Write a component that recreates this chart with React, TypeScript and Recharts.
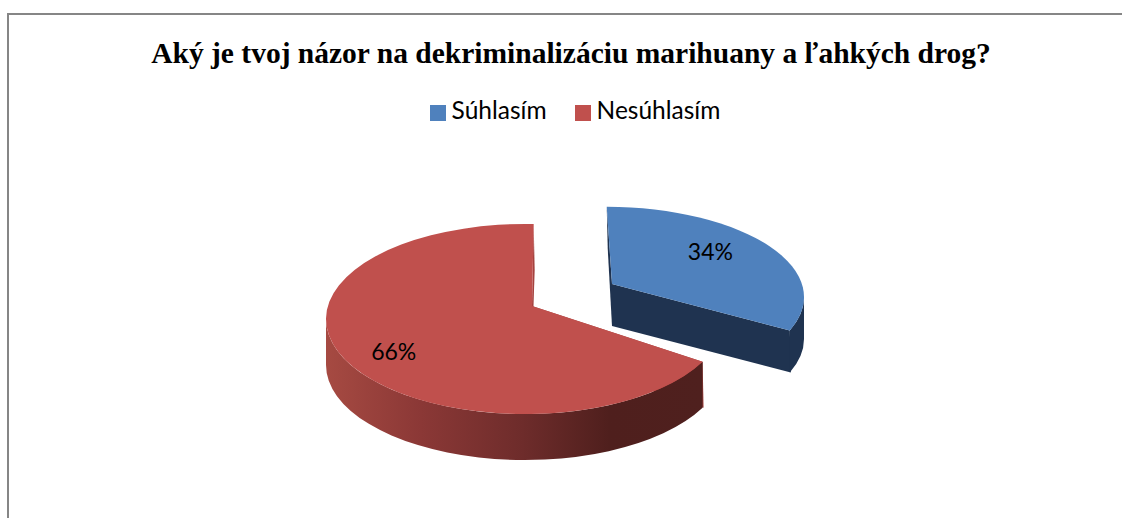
import React from 'react';
import { PieChart, Pie, Legend } from 'recharts';

const categories = ['Súhlasím', 'Nesúhlasím'];
const shares = [34, 66];
const sliceColors = ['#4f81bd', '#c0504d'];
const cutColors = ['#1f3350', '#a5423f'];
const wallColors = ['#1f3350', 'url(#redWall)'];
const title = 'Aký je tvoj názor na dekriminalizáciu marihuany a ľahkých drog?';

// fake 3D: the pie lies on an ellipse, blue slice is pulled out
const SQUASH = 95 / 199;
const APEX = { x: 7, y: -13 };
const sliceOffsets = [
    { dx: 80, dy: -22, ry: 0.95, depth: 42, pull: 14 },
    { dx: 0, dy: 0, ry: 1, depth: 46, pull: 8 },
];
const labelNudges = [{ x: -7, y: -3 }, { x: 0, y: 0 }];

const rad = (deg: number) => (deg * Math.PI) / 180;
// perspective pulls the front right of the circle back a little
const warp = (clockDeg: number, pull: number) =>
    clockDeg + 0.5 + (2 * clockDeg) / 360 - pull * Math.max(0, Math.sin(rad(clockDeg)));

const pieData = categories.map((name, i) => ({ name, value: shares[i], fill: sliceColors[i] }));

const rimPoint = (cx: number, cy: number, r: number, ry: number, t: number) => ({
    x: cx + r * Math.sin(rad(t)),
    y: cy - ry * Math.cos(rad(t)),
});

const Slice3D = (props: any) => {
    const { cx, cy, outerRadius, startAngle, endAngle, index, fill } = props;
    const off = sliceOffsets[index];
    const x0 = cx + off.dx;
    const y0 = cy + off.dy;
    const rx = outerRadius;
    const ry = outerRadius * SQUASH * off.ry;
    const t0 = warp(90 - startAngle, off.pull);
    const t1 = warp(90 - endAngle, off.pull);
    const large = t1 - t0 > 180 ? 1 : 0;
    const a = { x: x0 + APEX.x, y: y0 + APEX.y };
    const p0 = rimPoint(x0, y0, rx, ry, t0);
    const p1 = rimPoint(x0, y0, rx, ry, t1);
    const d = off.depth;

    const cut = (p: { x: number; y: number }) =>
        `M${a.x},${a.y} L${p.x},${p.y} L${p.x + 1},${p.y + d} L${a.x},${a.y + d} Z`;

    const wallFrom = Math.max(t0, 90);
    const wallTo = Math.min(t1, 270);
    const w0 = rimPoint(x0, y0, rx, ry, wallFrom);
    const w1 = rimPoint(x0, y0, rx, ry, wallTo);
    const wall = `M${w0.x},${w0.y} A${rx},${ry} 0 0 1 ${w1.x},${w1.y} L${w1.x},${w1.y + d} A${rx},${ry} 0 0 0 ${w0.x},${w0.y + d} Z`;

    return (
        <g>
            <path d={cut(p0)} fill={cutColors[index]} />
            <path d={cut(p1)} fill={cutColors[index]} />
            <path d={wall} fill={wallColors[index]} />
            <path d={`M${a.x},${a.y} L${p0.x},${p0.y} A${rx},${ry} 0 ${large} 1 ${p1.x},${p1.y} Z`} fill={fill} />
        </g>
    );
};

const renderLabel = (props: any) => {
    const { cx, cy, outerRadius, midAngle, index, value } = props;
    const off = sliceOffsets[index];
    const pos = rimPoint(
        cx + off.dx,
        cy + off.dy,
        outerRadius * 0.74,
        outerRadius * SQUASH * off.ry * 0.74,
        warp(90 - midAngle, off.pull),
    );
    return (
        <text
            x={pos.x + labelNudges[index].x}
            y={pos.y + labelNudges[index].y}
            textAnchor="middle"
            dominantBaseline="central"
            fontFamily="Lato"
            fontSize={23}
            fill="#000"
        >
            {value}%
        </text>
    );
};

const App = () => (
    <div style={{ position: 'absolute', left: 0, top: 0, width: 1122, height: 518, background: '#fff', overflow: 'hidden' }}>
        <div style={{ position: 'absolute', left: 7, top: 13, width: 1200, height: 600, border: '2px solid #868686' }} />
        <div style={{ position: 'absolute', left: 0, top: 37, width: 1142, textAlign: 'center', fontFamily: 'Liberation Serif', fontWeight: 'bold', fontSize: 29.5, color: '#000', whiteSpace: 'nowrap' }}>
            {title}
        </div>
        <div style={{ position: 'absolute', left: 0, top: 0 }}>
            <PieChart width={1122} height={518} margin={{ top: 0, right: 0, bottom: 0, left: 0 }}>
                <defs>
                    <linearGradient id="redWall" gradientUnits="userSpaceOnUse" x1={326} y1={0} x2={704} y2={0}>
                        <stop offset="0%" stopColor="#a64a42" />
                        <stop offset="25%" stopColor="#8b3836" />
                        <stop offset="52%" stopColor="#6e2c2b" />
                        <stop offset="75%" stopColor="#4f1f1d" />
                        <stop offset="100%" stopColor="#4f201e" />
                    </linearGradient>
                </defs>
                <Legend
                    verticalAlign="top"
                    align="center"
                    iconType="square"
                    iconSize={16}
                    itemSorter={null}
                    wrapperStyle={{ top: 95, left: 0, width: 1160, fontFamily: 'Lato', fontSize: 24.5 }}
                    formatter={(v: string, _e: any, i: number) => (
                        <span style={{ color: '#000', marginLeft: 2, marginRight: i === 0 ? 18 : 0 }}>{v}</span>
                    )}
                />
                <Pie
                    data={pieData}
                    dataKey="value"
                    nameKey="name"
                    cx={525}
                    cy={290}
                    outerRadius={199}
                    startAngle={90}
                    endAngle={-270}
                    stroke="none"
                    isAnimationActive={false}
                    shape={Slice3D}
                    label={renderLabel}
                    labelLine={false}
                />
            </PieChart>
        </div>
    </div>
);

export default App;
